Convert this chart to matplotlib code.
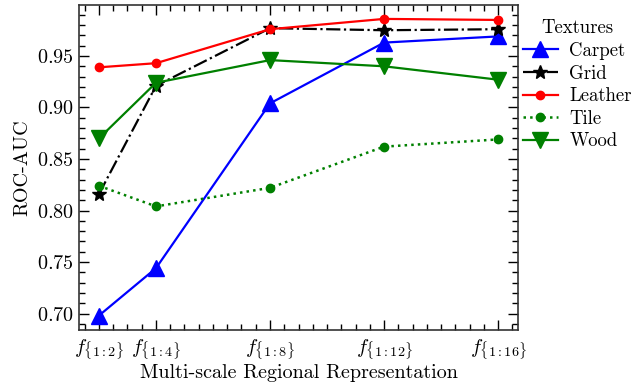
import matplotlib
matplotlib.use('Agg')
import matplotlib.pyplot as plt
from matplotlib.ticker import AutoMinorLocator

# serif look, like the LaTeX styled original
plt.rcParams['font.family'] = 'serif'
plt.rcParams['font.serif'] = ['cmr10', 'DejaVu Serif']
plt.rcParams['mathtext.fontset'] = 'cm'
plt.rcParams['axes.formatter.use_mathtext'] = True
plt.rcParams['font.size'] = 14.5

scales = [2, 4, 8, 12, 16]
scale_labels = [r'$f_{\{1:2\}}$', r'$f_{\{1:4\}}$', r'$f_{\{1:8\}}$',
                r'$f_{\{1:12\}}$', r'$f_{\{1:16\}}$']

carpet = [0.698, 0.744, 0.904, 0.963, 0.969]
grid = [0.816, 0.921, 0.977, 0.975, 0.976]
leather = [0.939, 0.943, 0.976, 0.986, 0.985]
tile = [0.824, 0.804, 0.822, 0.862, 0.869]
wood = [0.870, 0.924, 0.946, 0.940, 0.927]

fig = plt.figure(figsize=(6.34, 3.9), dpi=100)
ax = fig.add_axes([79/634, 1-330/390, (518-79)/634, (330-5)/390])

ax.plot(scales, carpet, color='blue', ls='-', marker='^', ms=11, lw=1.6, label='Carpet')
ax.plot(scales, grid, color='black', ls='-.', marker='*', ms=10, lw=1.6, label='Grid')
ax.plot(scales, leather, color='red', ls='-', marker='o', ms=6, lw=1.6, label='Leather')
ax.plot(scales, tile, color='green', ls=':', marker='o', ms=6, lw=1.8, label='Tile')
ax.plot(scales, wood, color='green', ls='-', marker='v', ms=11, lw=1.6, label='Wood')

ax.set_xlim(1.3, 16.7)
ax.set_ylim(0.684, 0.9995)
ax.set_xticks(scales)
ax.set_xticklabels(scale_labels)
ax.xaxis.set_minor_locator(AutoMinorLocator(4))
ax.yaxis.set_minor_locator(AutoMinorLocator(5))
ax.tick_params(which='both', direction='in', top=True, right=True, width=1.0)
ax.tick_params(which='major', length=7)
ax.tick_params(which='minor', length=4)
ax.tick_params(axis='x', which='major', pad=5)
for s in ax.spines.values():
    s.set_linewidth(1.2)
    s.set_color('#333333')

ax.set_xlabel('Multi-scale Regional Representation', labelpad=2)
ax.set_ylabel('ROC-AUC')

leg = ax.legend(title='Textures', loc='upper left', bbox_to_anchor=(1.0, 0.97),
                frameon=False, fontsize=13.5, title_fontsize=13.5,
                handlelength=1.87, handletextpad=0.62,
                labelspacing=0.25, borderaxespad=0.0, borderpad=0.25)

fig.savefig('out.png', dpi=100)
